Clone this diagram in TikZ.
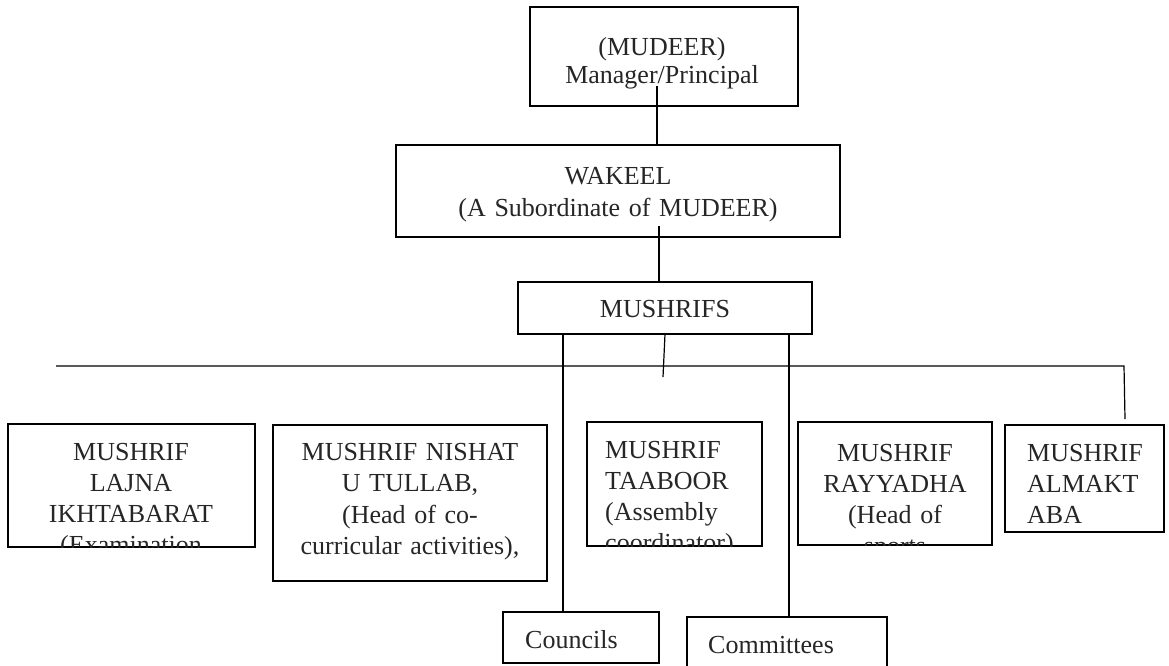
\documentclass[tikz,border=0pt]{standalone}
\usepackage{fontspec}
\setmainfont{Liberation Serif}
\definecolor{ink}{HTML}{262626}
\begin{document}
\begin{tikzpicture}[x=1pt,y=-1pt,
  frame/.style={draw=black, line width=1.6pt, rectangle, inner sep=0pt, outer sep=0pt, anchor=north west},
  link/.style={draw=black, line width=1.2pt},
  boxtext/.style={font=\fontsize{26}{31}\selectfont, text=ink, inner sep=0pt, text width=400pt, align=center, anchor=base},
  lboxtext/.style={boxtext, align=left, anchor=base west},
]
\fill[white] (0,0) rectangle (1169,665);
\useasboundingbox (0,0) rectangle (1169,665);

% frames
\node[frame, minimum width=268, minimum height=99]  (mudeer)     at (530,7)   {};
\node[frame, minimum width=444, minimum height=92]  (wakeel)     at (396,145) {};
\node[frame, minimum width=294, minimum height=52]  (mushrifs)   at (518,282) {};
\node[frame, minimum width=247, minimum height=123] (lajna)      at (8,424)   {};
\node[frame, minimum width=274, minimum height=156] (nishat)     at (273,425) {};
\node[frame, minimum width=175, minimum height=124] (taaboor)    at (587,422) {};
\node[frame, minimum width=194, minimum height=123] (rayyadha)   at (798,422) {};
\node[frame, minimum width=159, minimum height=107] (almaktaba)  at (1005,425) {};
\node[frame, minimum width=156, minimum height=51]  (councils)   at (503,612) {};
\node[frame, minimum width=200, minimum height=80]  (committees) at (687,617) {};

% texts
\node[boxtext, font=\fontsize{26}{28}\selectfont] (mudeertext) at (662,55) {(MUDEER)\\Manager/Principal};
\node[boxtext, font=\fontsize{26}{32}\selectfont] (wakeeltext) at (618,184) {WAKEEL\\(A Subordinate of MUDEER)};
\node[boxtext] (mushrifstext) at (665,317) {MUSHRIFS};
\begin{scope}
  \clip (lajna.north west) rectangle (lajna.south east);
  \node[boxtext] (lajnatext) at (131,460) {MUSHRIF\\LAJNA\\IKHTABARAT\\(Examination};
\end{scope}
\begin{scope}
  \clip (nishat.north west) rectangle (nishat.south east);
  \node[boxtext, font=\fontsize{26}{31.5}\selectfont] (nishattext) at (410,460) {MUSHRIF NISHAT\\U TULLAB,\\(Head of co-\\curricular activities),};
\end{scope}
\begin{scope}
  \clip (taaboor.north west) rectangle (taaboor.south east);
  \node[lboxtext] (taaboortext) at (605,458) {MUSHRIF\\TAABOOR\\(Assembly\\coordinator)};
\end{scope}
\begin{scope}
  \clip (rayyadha.north west) rectangle (rayyadha.south east);
  \node[boxtext] (rayyadhatext) at (895,461) {MUSHRIF\\RAYYADHA\\(Head of\\sports};
\end{scope}
\begin{scope}
  \clip (almaktaba.north west) rectangle (almaktaba.south east);
  \node[lboxtext] (almaktabatext) at (1027,461) {MUSHRIF\\ALMAKT\\ABA};
\end{scope}
\node[lboxtext] (councilstext) at (525,648) {Councils};
\node[lboxtext] (committeestext) at (708,653) {Committees};

% connectors
\coordinate (mudeerfoot) at (657,86);
\draw[link] (mudeerfoot) -- (mudeerfoot |- wakeel.north);
\coordinate (wakeelfoot) at (659,226);
\draw[link] (wakeelfoot) -- (wakeelfoot |- mushrifs.north);

\coordinate (councilsdrop) at (563,0);
\draw[link] (councilsdrop |- mushrifs.south) -- (councilsdrop |- councils.north);
\coordinate (committeesdrop) at (789,0);
\draw[link] (committeesdrop |- mushrifs.south) -- (committeesdrop |- committees.north);
\coordinate (midtick) at (663,377);
\draw[link] (mushrifs.south) -- (midtick);

\coordinate (busleft) at (56,366);
\coordinate (busright) at (1124,366);
\coordinate (almaktabadrop) at (1125,419);
\draw[link] (busleft) -- (busright) -- (almaktabadrop);
\end{tikzpicture}
\end{document}
